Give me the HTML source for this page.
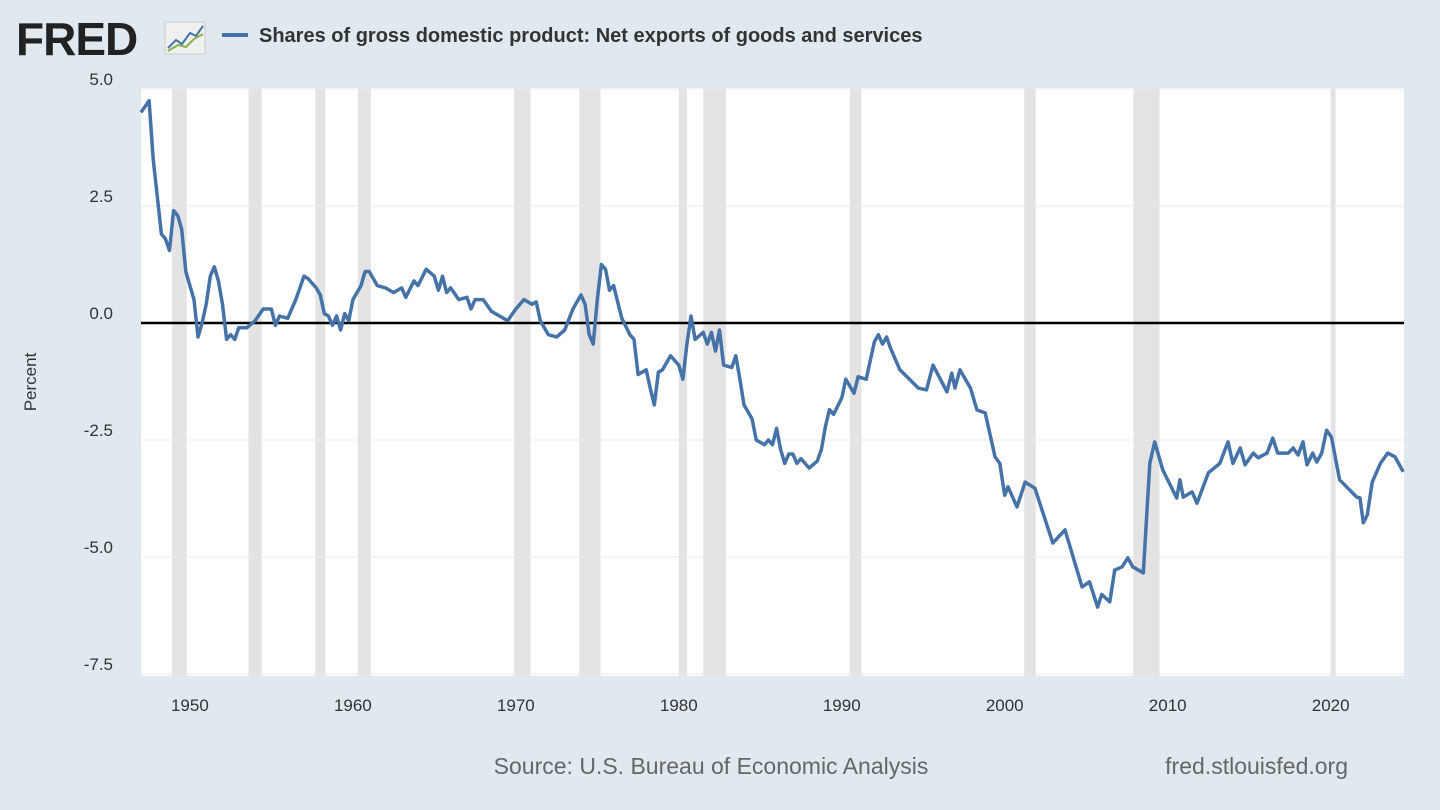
<!DOCTYPE html>
<html><head><meta charset="utf-8">
<style>
html,body{margin:0;padding:0;background:#e1e9f0;}
svg{display:block;font-family:"Liberation Sans",Arial,sans-serif;}
</style></head>
<body>
<svg id="chart" width="1440" height="810" viewBox="0 0 1440 810">
  <rect x="0" y="0" width="1440" height="810" fill="#e1e9f0"/>
  <g>
    <text x="16" y="55" font-size="46" font-weight="bold" fill="#222" letter-spacing="-1">FRED</text>
    <rect x="165" y="22" width="40" height="32" fill="#eef1ee" stroke="#ccc"/>
    <polyline points="168,48 176,40 182,44 190,33 196,36 203,26" fill="none" stroke="#4572a7" stroke-width="2"/>
    <polyline points="168,51 178,45 186,47 194,39 203,34" fill="none" stroke="#8bb04f" stroke-width="2"/>
  </g>
  <g>
    <line x1="222" y1="35" x2="248" y2="35" stroke="#4572a7" stroke-width="4"/>
    <text x="259" y="42" font-size="20" font-weight="bold" fill="#333">Shares of gross domestic product: Net exports of goods and services</text>
  </g>
  <rect x="141" y="88" width="1263" height="588" fill="#fff"/>
  <g id="rec"></g>
  <g id="grid"></g>
  <g id="yax"></g>
  <g id="xax"></g>
  <line id="zero" stroke="#000" stroke-width="2.5"/>
  <path id="line" fill="none" stroke="#4572a7" stroke-width="3.5" stroke-linejoin="round"/>
  <text x="36" y="382" font-size="17" fill="#333" text-anchor="middle" transform="rotate(-90 36 382)">Percent</text>
  <text x="711" y="774" font-size="23" fill="#666" text-anchor="middle">Source: U.S. Bureau of Economic Analysis</text>
  <text x="1348" y="774" font-size="23" fill="#666" text-anchor="end">fred.stlouisfed.org</text>
</svg>
<script>
const yTicks=[5.0,2.5,0.0,-2.5,-5.0,-7.5];
const yTickLabels=["5.0","2.5","0.0","-2.5","-5.0","-7.5"];
const xTicks=[1950,1960,1970,1980,1990,2000,2010,2020];
const recessionStarts=[1948.9,1953.6,1957.7,1960.3,1969.9,1973.9,1980.0,1981.5,1990.5,2001.2,2007.9,2020.0];
const recessionEnds=[1949.8,1954.4,1958.3,1961.1,1970.9,1975.2,1980.5,1982.9,1991.2,2001.9,2009.5,2020.3];
const dates=[1947,1947.5,1947.75,1948,1948.25,1948.5,1948.75,1949,1949.25,1949.5,1949.75,1950,1950.25,1950.5,1950.75,1951,1951.25,1951.5,1951.75,1952,1952.25,1952.5,1952.75,1953,1953.5,1954,1954.5,1955,1955.25,1955.5,1956,1956.5,1957,1957.25,1957.75,1958,1958.25,1958.5,1958.75,1959,1959.25,1959.5,1959.75,1960,1960.5,1960.75,1961,1961.5,1962,1962.5,1963,1963.25,1963.75,1964,1964.5,1965,1965.25,1965.5,1965.75,1966,1966.5,1967,1967.25,1967.5,1968,1968.5,1969,1969.5,1970,1970.5,1971,1971.25,1971.5,1972,1972.5,1973,1973.5,1974,1974.25,1974.5,1974.75,1975,1975.25,1975.5,1975.75,1976,1976.5,1977,1977.25,1977.5,1978,1978.25,1978.5,1978.75,1979,1979.5,1980,1980.25,1980.5,1980.75,1981,1981.5,1981.75,1982,1982.25,1982.5,1982.75,1983.25,1983.5,1983.75,1984,1984.5,1984.75,1985.25,1985.5,1985.75,1986,1986.25,1986.5,1986.75,1987,1987.25,1987.5,1988,1988.5,1988.75,1989,1989.25,1989.5,1990,1990.25,1990.75,1991,1991.5,1991.75,1992,1992.25,1992.5,1992.75,1993,
1993.57,1994.7,1995.2,1995.6,1996.45,1996.75,1996.95,1997.25,1997.9,1998.3,1998.8,1999.4,1999.7,2000.0,2000.2,2000.75,2001.25,2001.85,2002.95,2003.7,2004.75,2005.2,2005.7,2005.95,2006.45,2006.75,2007.2,2007.55,2007.85,2008.5,2008.9,2009.2,2009.7,2010.55,2010.75,2010.95,2011.5,2011.8,2012.5,2013.2,2013.7,2014.0,2014.45,2014.75,2015.25,2015.55,2016.1,2016.45,2016.75,2017.4,2017.7,2018.0,2018.3,2018.55,2018.9,2019.15,2019.45,2019.75,2020.05,2020.55,2021.6,2021.8,2022.0,2022.25,2022.55,2023.05,2023.5,2023.95,2024.45];
const values=[4.5,4.75,3.5,2.7,1.9,1.8,1.55,2.4,2.3,2.0,1.1,0.8,0.5,-0.3,0,0.4,1.0,1.2,0.9,0.4,-0.35,-0.25,-0.35,-0.1,-0.1,0.05,0.3,0.3,-0.05,0.15,0.1,0.5,1.0,0.95,0.75,0.6,0.2,0.15,-0.05,0.15,-0.15,0.2,0.05,0.5,0.8,1.1,1.1,0.8,0.75,0.65,0.75,0.55,0.9,0.8,1.15,1.0,0.7,1.0,0.65,0.75,0.5,0.55,0.3,0.5,0.5,0.25,0.15,0.05,0.3,0.5,0.4,0.45,0.05,-0.25,-0.3,-0.15,0.3,0.6,0.4,-0.25,-0.45,0.5,1.25,1.15,0.7,0.8,0.1,-0.25,-0.35,-1.1,-1.0,-1.4,-1.75,-1.05,-1.0,-0.7,-0.9,-1.2,-0.45,0.15,-0.35,-0.2,-0.45,-0.2,-0.6,-0.15,-0.9,-0.95,-0.7,-1.2,-1.75,-2.05,-2.5,-2.6,-2.5,-2.6,-2.25,-2.7,-3.0,-2.8,-2.8,-3.0,-2.9,-3.1,-2.95,-2.7,-2.2,-1.85,-1.95,-1.6,-1.2,-1.5,-1.15,-1.2,-0.8,-0.4,-0.25,-0.45,-0.3,-0.55,
-1.0,-1.39,-1.43,-0.9,-1.47,-1.07,-1.39,-1.0,-1.39,-1.86,-1.92,-2.86,-3.0,-3.68,-3.5,-3.93,-3.4,-3.53,-4.7,-4.42,-5.64,-5.53,-6.07,-5.8,-5.96,-5.28,-5.21,-5.02,-5.21,-5.34,-3.0,-2.54,-3.14,-3.74,-3.35,-3.72,-3.61,-3.85,-3.2,-3.0,-2.54,-3.0,-2.67,-3.03,-2.78,-2.88,-2.78,-2.46,-2.78,-2.78,-2.67,-2.82,-2.54,-3.03,-2.78,-2.97,-2.78,-2.29,-2.44,-3.35,-3.72,-3.74,-4.27,-4.1,-3.4,-3.0,-2.78,-2.86,-3.18];

const X0=141,X1=1404,T0=1947.0,T1=2024.5;
const Y0=89,Y1=674,V0=5.0,V1=-7.5;
const xs=t=>X0+(t-T0)/(T1-T0)*(X1-X0);
const ys=v=>Y0+(V0-v)/(V0-V1)*(Y1-Y0);
const NS="http://www.w3.org/2000/svg";
function mk(tag,attrs,parent){const e=document.createElementNS(NS,tag);for(const k in attrs)e.setAttribute(k,attrs[k]);parent.appendChild(e);return e;}

const rec=document.getElementById('rec');
recessionStarts.forEach((s,i)=>{
  const r=mk('rect',{x:xs(s),y:88,width:xs(recessionEnds[i])-xs(s),height:588,fill:'#e3e3e3'},rec);
  
  
});
const grid=document.getElementById('grid'),yax=document.getElementById('yax');
yTicks.forEach((v,i)=>{
  const g=mk('line',{x1:X0,x2:X1,y1:ys(v),y2:ys(v),stroke:'#e8e8e8','stroke-width':1},grid);
  
  
  const t=mk('text',{x:113,y:ys(v)-4,'font-size':17,fill:'#333','text-anchor':'end'},yax);
  t.textContent=yTickLabels[i];
  
  
});
const xax=document.getElementById('xax');
xTicks.forEach(yr=>{
  const t=mk('text',{x:xs(yr),y:711,'font-size':17,fill:'#333','text-anchor':'middle'},xax);
  t.textContent=String(yr);
  
  
});
const z=document.getElementById('zero');
z.setAttribute('x1',X0);z.setAttribute('x2',X1);z.setAttribute('y1',ys(0));z.setAttribute('y2',ys(0));
document.getElementById('line').setAttribute('d',dates.map((t,i)=>(i?'L':'M')+xs(t).toFixed(1)+','+ys(values[i]).toFixed(1)).join(''));
</script>
</body></html>
